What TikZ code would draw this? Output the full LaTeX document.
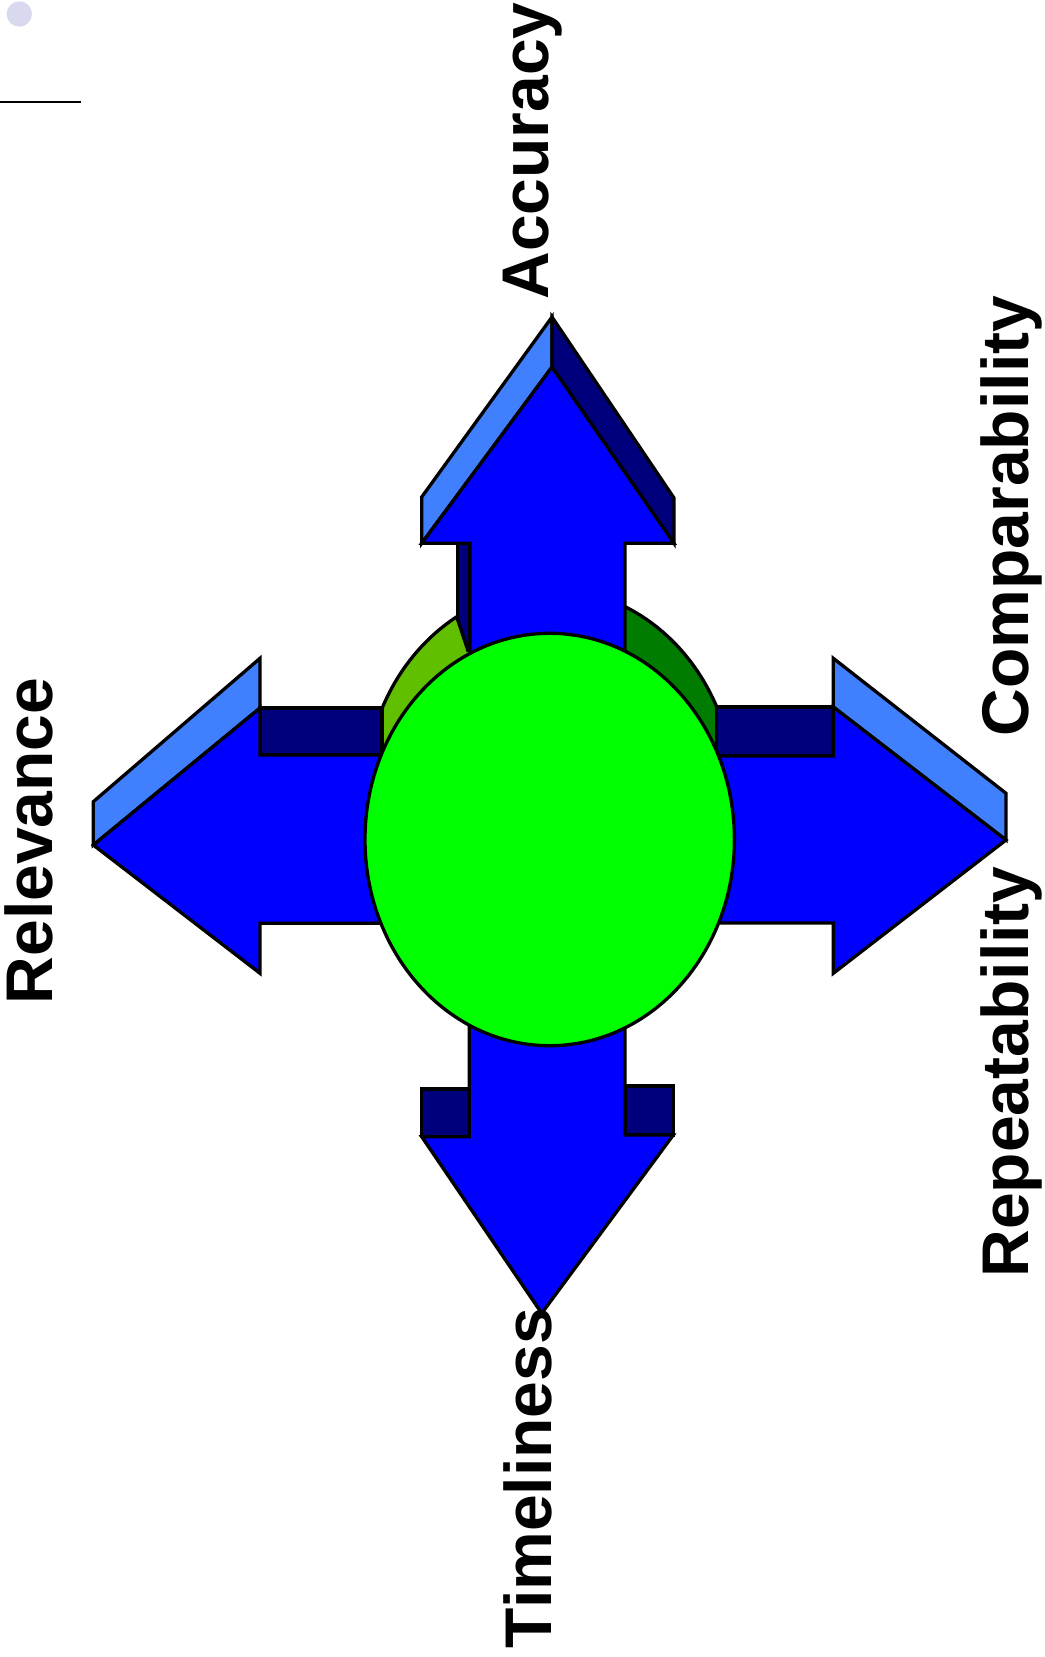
\documentclass[tikz,border=0pt]{standalone}
\usepackage{fontspec}
\setmainfont{Liberation Sans}
\definecolor{arrowblue}{RGB}{0,0,255}
\definecolor{bevellight}{RGB}{64,128,255}
\definecolor{bevelnavy}{RGB}{0,0,124}
\definecolor{sidelight}{RGB}{96,192,0}
\definecolor{sidedark}{RGB}{0,124,0}
\definecolor{facegreen}{RGB}{0,255,0}
\definecolor{dotcol}{RGB}{216,216,238}
\begin{document}
\begin{tikzpicture}[x=1pt,y=-1pt,
  outl/.style={draw=black,line width=3.3pt},
  lbl/.style={font=\fontsize{66}{66}\selectfont\bfseries,rotate=90,anchor=base,inner sep=0pt}]
\useasboundingbox (0,0) rectangle (1044,1657);
% top-left marks
\fill[dotcol] (19.3,14) circle [radius=12.7];
\draw[line width=2pt] (0,101.7) -- (81,101.7);
% up arrow shaft side strip (behind cylinder side)
\filldraw[outl,fill=bevelnavy] (457.3,543.3) -- (470,543.3) -- (470,700) -- (457.3,700) -- cycle;
% back cylinder: light left part
\begin{scope}
  \clip (418,500) -- (550.6,900) -- (300,900) -- (300,500) -- cycle;
  \filldraw[outl,fill=sidelight] (549.7,795) ellipse [x radius=184.7, y radius=206.2];
\end{scope}
\draw[outl] (456.7,616.7) -- (468.3,651.7);
% back cylinder: dark right part
\begin{scope}
  \clip (600,500) rectangle (800,900);
  \filldraw[outl,fill=sidedark] (549.7,795) ellipse [x radius=184.7, y radius=206.2];
\end{scope}
% bevels
\filldraw[outl,fill=bevellight] (552,317) -- (421.7,497) -- (421.7,543.3) -- (552,367) -- cycle;
\filldraw[outl,fill=bevelnavy] (552,317) -- (674,498) -- (674,543.3) -- (552,367) -- cycle;
\filldraw[outl,fill=bevellight] (93.3,801.7) -- (260,658.3) -- (260,708) -- (93.3,845) -- cycle;
\filldraw[outl,fill=bevelnavy] (260,708) rectangle (382,755);
\filldraw[outl,fill=bevellight] (833.3,658.3) -- (1006,793.3) -- (1006,840) -- (833.3,707) -- cycle;
\filldraw[outl,fill=bevelnavy] (716.7,707) rectangle (833.3,756);
\filldraw[outl,fill=bevelnavy] (421.7,1089) rectangle (469.3,1136.7);
\filldraw[outl,fill=bevelnavy] (625,1086) rectangle (673.3,1135);
% front cross arrow
\filldraw[outl,fill=arrowblue]
  (552,367) -- (674,543.3) -- (625,543.3) -- (625,756) -- (833.3,756) -- (833.3,707)
  -- (1006,840) -- (833.3,973.3) -- (833.3,923) -- (625,923) -- (625,1135)
  -- (673.3,1135) -- (541.7,1313.3) -- (421.7,1136.7) -- (469.3,1136.7) -- (469.3,923)
  -- (260,923.3) -- (260,973.3) -- (93.3,845) -- (260,708) -- (260,755) -- (470,755)
  -- (470,543.3) -- (421.7,543.3) -- cycle;
% front disc
\filldraw[outl,fill=facegreen] (549.7,839.5) ellipse [x radius=184.7, y radius=206.2];
% labels
\node[lbl] (acc) at (548,151) {Accuracy};
\node[lbl] (comp) at (1028,516) {Comparability};
\node[lbl] (rep) at (1028,1072) {Repeatability};
\node[lbl] (rel) at (52,841) {Relevance};
\node[lbl] (time) at (551.7,1478) {Timeliness};
\end{tikzpicture}
\end{document}
